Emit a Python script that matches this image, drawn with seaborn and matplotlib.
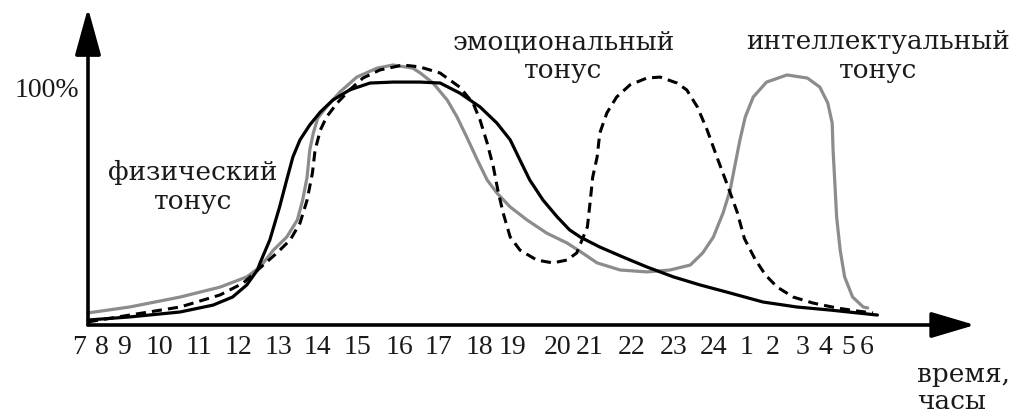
import numpy as np
import pandas as pd
from matplotlib import pyplot as plt
import seaborn as sns

# time axis: position along the arrow in % of its length, level in %
hours = ['7', '8', '9', '10', '11', '12', '13', '14', '15', '16', '17', '18',
         '19', '20', '21', '22', '23', '24', '1', '2', '3', '4', '5', '6']
hour_pos = [-1.0, 1.6, 4.1, 8.1, 12.5, 17.0, 21.5, 25.9, 30.4, 35.1, 39.5, 44.1,
            47.9, 52.9, 56.6, 61.3, 66.0, 70.5, 74.3, 77.2, 80.5, 83.1, 85.7, 87.8]

# физический тонус
phys_x = [0, 4.7, 10.4, 14.1, 16.3, 17.9, 19.1, 19.4, 20.5, 21.6, 22.4, 23.1,
          23.9, 25.0, 26.2, 27.6, 29.5, 31.8, 34.4, 37.4, 39.7, 41.9, 44.2,
          46.1, 47.6, 48.7, 49.8, 51.3, 52.9, 54.3, 55.5, 57.7, 60.3, 63.0,
          66.0, 69.0, 72.0, 76.1, 79.9, 83.7, 86.7, 89.0]
phys_y = [2.1, 3.4, 5.5, 8.4, 11.8, 16.9, 23.2, 26.2, 35.9, 49.8, 61.2, 70.9,
          78.1, 84.4, 89.9, 94.9, 99.2, 102.1, 102.5, 102.5, 102.1, 97.9, 92.0,
          85.2, 78.1, 69.6, 61.2, 52.7, 45.6, 40.1, 37.1, 32.9, 28.7, 24.5,
          20.3, 16.9, 13.9, 9.7, 7.6, 6.3, 5.1, 4.2]

# эмоциональный тонус
emo_x = [0, 4.7, 10.4, 14.9, 17.5, 19.4, 21.3, 22.8, 23.9, 24.7, 25.3, 25.6,
         26.2, 26.9, 28.1, 29.5, 31.0, 32.9, 35.5, 37.4, 39.7, 41.9, 43.4,
         44.2, 45.0, 45.7, 46.2, 46.8, 47.6, 48.7, 50.6, 52.4, 54.0, 55.1,
         56.3, 56.6, 56.9, 57.4, 57.7, 58.5, 59.6, 61.1, 63.0, 64.5, 66.4,
         67.5, 68.7, 69.8, 70.9, 72.0, 73.2, 74.0, 75.2, 76.4, 77.7, 79.5,
         81.7, 84.4, 86.7, 88.5]
emo_y = [1.3, 4.2, 7.6, 12.7, 17.7, 24.1, 30.4, 35.9, 43.0, 52.7, 64.1, 73.8,
         82.3, 87.8, 93.7, 99.2, 104.2, 107.6, 109.7, 108.9, 106.3, 100.4,
         93.7, 86.5, 76.8, 66.7, 57.0, 47.3, 37.1, 31.6, 27.4, 26.2, 27.4,
         30.4, 41.4, 51.5, 62.4, 70.9, 81.0, 89.5, 96.2, 101.3, 104.2, 104.6,
         102.1, 99.2, 92.0, 82.3, 70.9, 59.9, 47.5, 36.5, 27.8, 21.0, 16.0,
         11.8, 9.3, 7.2, 5.9, 5.1]

# интеллектуальный тонус
intel_x = [0, 4.7, 10.4, 14.9, 17.9, 19.4, 20.9, 22.4, 23.6, 24.2, 24.7, 25.0,
           25.4, 25.9, 26.9, 28.4, 30.3, 32.6, 34.4, 36.6, 37.4, 38.9, 40.5,
           41.6, 42.7, 43.9, 45.0, 46.1, 47.6, 49.5, 51.7, 54.0, 55.5, 57.4,
           60.0, 63.0, 65.6, 67.9, 69.3, 70.5, 71.6, 72.4, 72.9, 73.5, 74.1,
           75.0, 76.5, 78.8, 81.1, 82.5, 83.4, 83.9, 84.0, 84.2, 84.4, 84.8,
           85.3, 86.2, 87.4, 87.9]
intel_y = [5.1, 7.6, 11.8, 16.0, 20.3, 24.5, 31.6, 37.1, 44.3, 52.7, 62.4,
           73.8, 81.0, 87.3, 92.0, 98.3, 104.6, 108.4, 109.7, 108.4, 106.5,
           102.1, 94.9, 87.8, 79.3, 69.6, 61.2, 55.7, 49.8, 44.3, 38.8, 34.6,
           31.0, 26.2, 23.2, 22.4, 23.2, 25.3, 30.4, 37.1, 47.3, 57.0, 66.7,
           78.1, 87.8, 96.2, 102.5, 105.5, 104.2, 100.4, 93.7, 85.2, 73.8,
           59.9, 45.6, 31.6, 20.3, 11.8, 7.6, 7.2]

sns.set_style('white')
plt.rcParams['font.family'] = ['Liberation Serif']

fig = plt.figure(figsize=(10.16, 4.12), dpi=100)
ax = fig.add_axes([0, 0, 1, 1])

phys = pd.DataFrame({'t': phys_x, 'v': phys_y})
emo = pd.DataFrame({'t': emo_x, 'v': emo_y})
intel = pd.DataFrame({'t': intel_x, 'v': intel_y})

sns.lineplot(data=intel, x='t', y='v', ax=ax, color='#8c8c8c', lw=2.3, sort=False)
sns.lineplot(data=emo, x='t', y='v', ax=ax, color='black', lw=2.2, sort=False,
             linestyle=(0, (3.3, 2.0)))
sns.lineplot(data=phys, x='t', y='v', ax=ax, color='black', lw=2.3, sort=False)

# origin of the arrows sits at (88, 325) px; 8.87 px per x unit, 2.37 px per %
ax.set_xlim(-88 / 8.87, (1016 - 88) / 8.87)
ax.set_ylim(-87 / 2.37, (412 - 87) / 2.37)

ax.spines['left'].set_position(('data', 0))
ax.spines['bottom'].set_position(('data', 0))
for s in ['top', 'right', 'left', 'bottom']:
    ax.spines[s].set_visible(False)

ax.annotate('', xy=(100, 0), xytext=(0, 0),
            arrowprops=dict(arrowstyle='-|>,head_length=2.7,head_width=0.8',
                            mutation_scale=10, lw=2.6, color='black',
                            shrinkA=0, shrinkB=0))
ax.annotate('', xy=(0, (325 - 8) / 2.37), xytext=(0, 0),
            arrowprops=dict(arrowstyle='-|>,head_length=2.9,head_width=0.8',
                            mutation_scale=10, lw=2.6, color='black',
                            shrinkA=0, shrinkB=0))

ax.set_xticks(hour_pos, hours)
ax.set_yticks([100], ['100%'])
ax.tick_params(axis='both', length=0, labelsize=20, colors='#1a1a1a')
ax.tick_params(axis='x', pad=7)
ax.tick_params(axis='y', pad=6)
ax.set_xlabel('')
ax.set_ylabel('')

# the captions use a wider serif, closer to the original typeface
txt = dict(fontsize=19, color='#1a1a1a', ha='center', va='center',
           linespacing=1.2, family='DejaVu Serif')
ax.text(11.8, 58.2, 'физический\nтонус', **txt)
ax.text(53.6, 113.5, 'эмоциональный\nтонус', **txt)
ax.text(89.1, 113.5, 'интеллектуальный\nтонус', **txt)
ax.text(93.5, -26.6, 'время,\nчасы', fontsize=19, color='#1a1a1a',
        ha='left', va='center', linespacing=1.1, family='DejaVu Serif')

plt.savefig('out.png', dpi=100)
